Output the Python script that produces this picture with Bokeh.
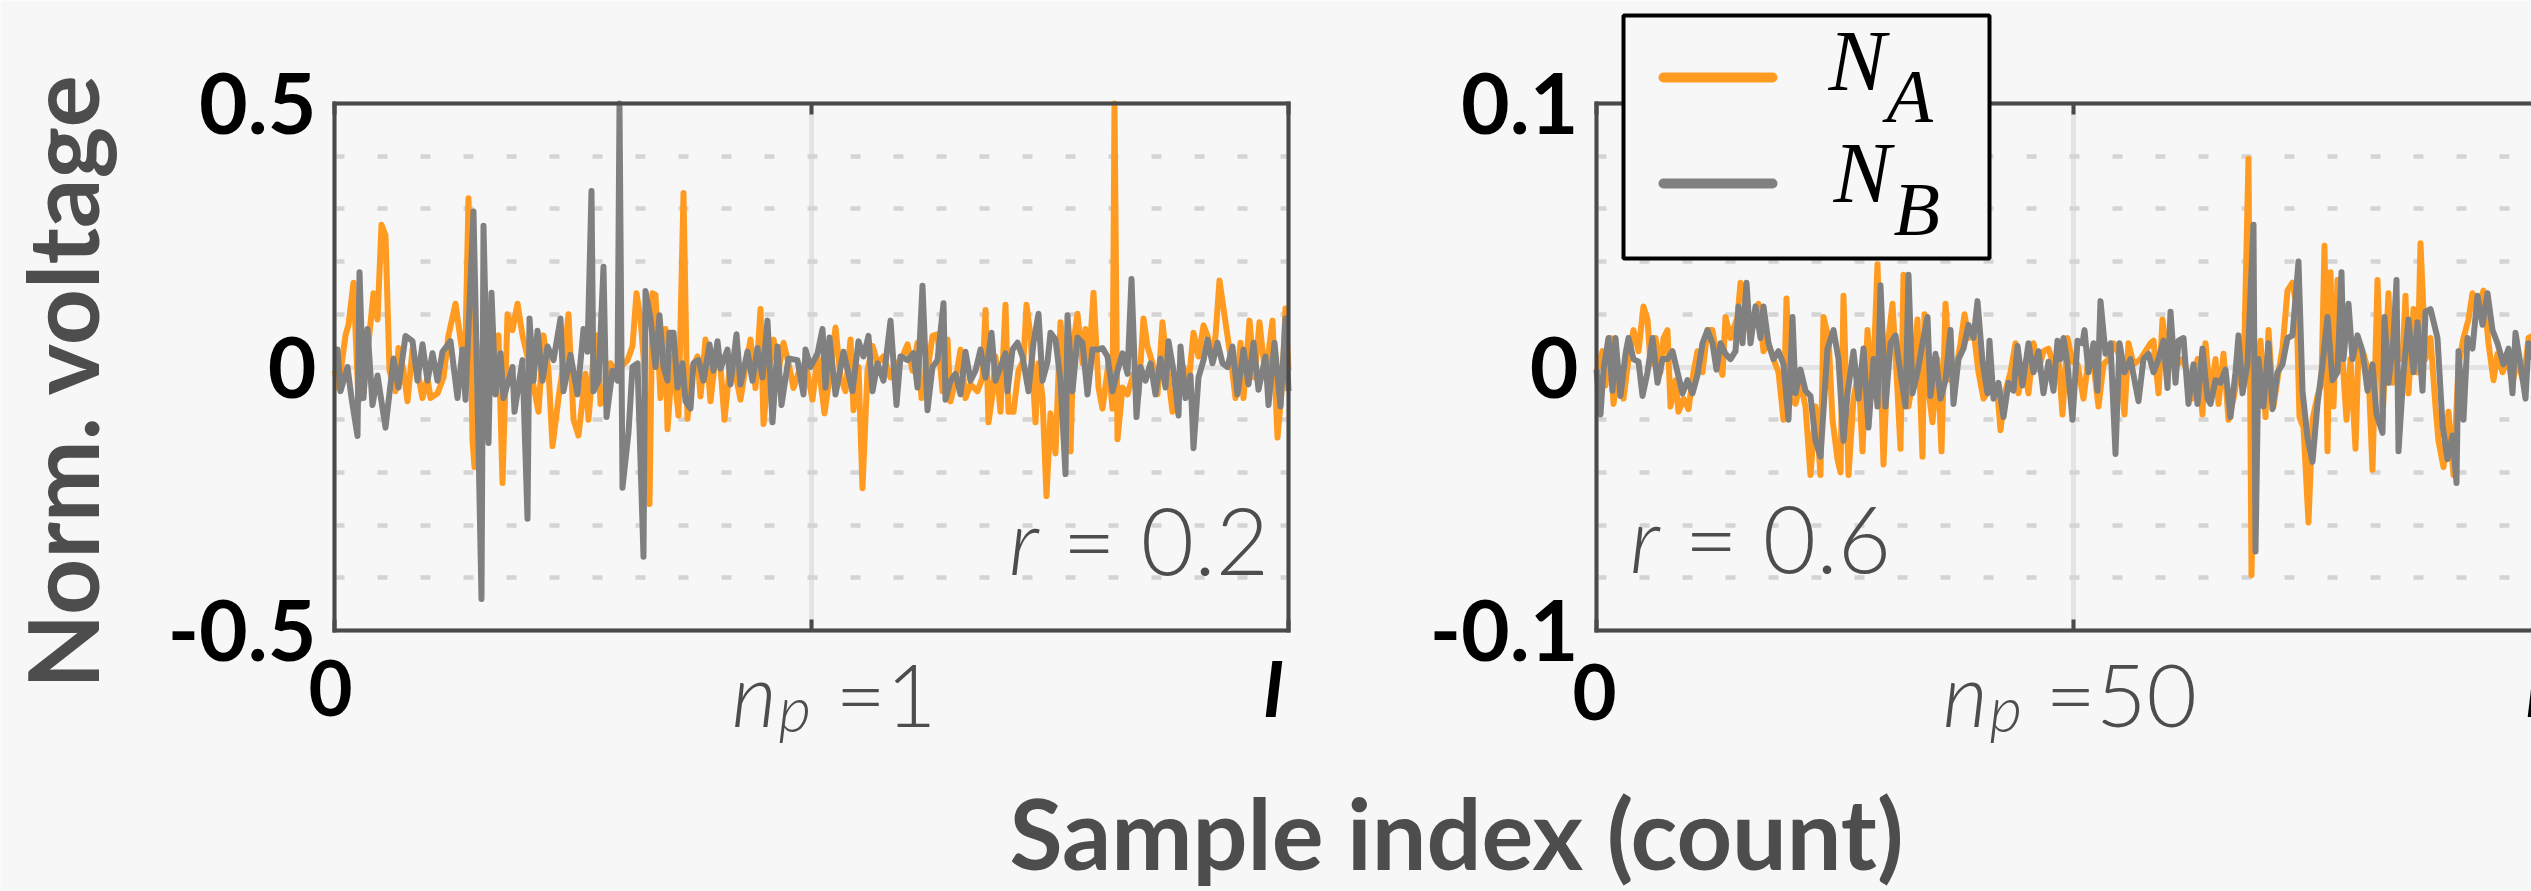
from math import pi
from bokeh.plotting import figure
from bokeh.models import (FixedTicker, Label, LinearAxis, Range1d, Grid, BoxAnnotation, Arrow)
from bokeh.embed import file_html
from bokeh.resources import INLINE

BG = "#f7f7f7"
ORANGE = "#ff9b21"
GREY = "#808080"
FRAME = "#4a4a4a"
TEXT = "#4d4d4d"

# ---------------- data (sample index, normalised voltage) ----------------
x_ticks = [0, 477, 954]
left_y_ticks = [-0.5, 0, 0.5]
left_y_minor = [-0.4, -0.3, -0.2, -0.1, 0.1, 0.2, 0.3, 0.4]
left_y_labels = ["-0.5", "0", "0.5"]
right_y_ticks = [-0.1, 0, 0.1]
right_y_minor = [-0.08, -0.06, -0.04, -0.02, 0.02, 0.04, 0.06, 0.08]
right_y_labels = ["-0.1", "0", "0.1"]
np_values = ["1", "50"]
r_values = ["0.2", "0.6"]
series_names = [("N", "A"), ("N", "B")]

# panel 1 (n_p = 1), N_A
A1 = [(0,-0.007),(4,-0.04),(11,0.06),(14,0.08),(19,0.16),(24,-0.065),(29,-0.05),(39,0.14),(43,0.09),(47,0.27),
      (51,0.25),(55,-0.007),(61,-0.046),(64,0.036),(69,-0.007),(73,-0.065),(78,0.033),(83,-0.007),(88,-0.059),(93,-0.02),
      (96,-0.059),(103,-0.05),(109,-0.02),(114,0.06),(121,0.12),(128,0.026),(131,0.046),(134,0.32),(138,-0.14),(140,-0.19),
      (144,-0.02),(149,0.06),(154,-0.007),(159,0.02),(164,0.06),(168,-0.22),(173,0.1),(178,0.07),(183,0.12),(188,0.06),
      (193,0.02),(198,-0.026),(204,-0.085),(209,0.06),(214,-0.007),(218,-0.15),(224,-0.059),(229,0.007),(234,0.1),(239,-0.1),
      (244,-0.13),(251,-0.013),(254,-0.1),(259,0.02),(263,0.06),(266,-0.07),(271,-0.039),(276,0.007),(281,-0.007),(286,0.0),
      (293,0.013),(298,0.04),(302,0.14),(306,0.092),(309,0.02),(315,-0.26),(318,0.14),(321,0.137),
      (326,-0.059),(331,0.072),(333,-0.118),(338,0.02),(344,-0.092),(349,0.33),(353,-0.098),(358,0.0),(363,0.02),(366,-0.056),
      (371,0.052),(376,-0.065),(381,0.02),(386,0.0),(390,-0.1),(396,0.013),(401,-0.013),(406,-0.062),(411,0.0),(416,0.052),
      (421,-0.04),(426,0.11),(429,-0.108),(434,-0.007),(439,0.052),(444,-0.007),(449,0.046),(454,0.007),(459,-0.04),(466,0.0),
      (471,0.007),(478,-0.062),(483,0.02),(490,-0.088),(496,-0.007),(501,0.075),(506,-0.02),(511,-0.046),(516,0.052),(519,-0.082),
      (524,0.0),(528,-0.23),(533,-0.007),(538,0.04),(543,0.007),(549,0.02),(556,-0.02),(563,0.007),(568,0.02),(573,0.043),
      (578,-0.007),(583,0.046),(587,-0.059),(593,-0.007),(598,0.059),(603,0.062),(608,-0.046),(613,0.052),(616,-0.065),(621,-0.026),
      (626,0.033),(631,-0.059),
      (636,-0.033),(643,-0.046),(648,-0.02),(651,0.108),(654,-0.105),(658,-0.052),(661,0.02),(666,-0.085),(671,0.118),(674,-0.085),
      (679,-0.085),(684,-0.007),(689,0.013),(692,0.118),(696,0.059),(701,-0.105),(704,0.007),(708,-0.059),(712,-0.245),(716,-0.088),
      (721,-0.164),(726,0.085),(731,-0.02),(736,-0.16),(739,0.046),(743,0.101),(748,0.007),(751,0.072),(754,-0.007),(759,0.141),
      (764,-0.039),(768,-0.079),(774,0.007),(778,-0.079),(780,0.5),(783,-0.137),(788,-0.039),(793,-0.052),(799,-0.013),(804,-0.052),
      (809,0.092),(813,0.039),(818,0.007),(823,-0.052),(828,0.085),(833,-0.007),(838,-0.085),(843,-0.065),(849,0.0),(854,-0.033),
      (859,0.065),(864,0.02),(869,0.079),(873,0.059),(878,0.02),(881,0.059),(885,0.164),(891,0.085),(896,0.02),(901,-0.059),
      (906,0.046),(909,-0.059),(915,0.088),(920,-0.02),(925,0.085),(931,-0.02),(938,0.088),(943,-0.134),(948,-0.026),(951,0.111),
      (954,-0.007)]

# panel 1 (n_p = 1), N_B
B1 = [(0,0.033),(3,0.033),(6,-0.046),(13,0.0),(17,-0.059),(23,-0.131),(25,0.18),(29,-0.059),(33,0.072),(38,-0.072),
      (43,-0.016),(51,-0.115),(59,0.016),(64,-0.039),(71,0.059),(78,0.049),(83,-0.026),(88,0.043),(93,-0.026),(98,0.026),
      (103,-0.026),(108,0.029),(116,0.049),(123,-0.059),(128,0.033),(131,-0.062),(139,0.295),(144,-0.15),(147,-0.44),(149,0.268),
      (154,-0.144),(157,0.141),(161,-0.052),(166,0.026),(169,-0.059),(178,0.0),(180,-0.085),(188,0.013),(193,-0.288),(195,0.092),
      (199,-0.026),(203,0.069),(208,-0.026),(213,0.039),(219,0.013),(226,0.092),(229,-0.046),(236,0.023),(243,-0.052),(249,0.072),
      (253,0.029),(257,0.334),(259,-0.046),(264,-0.026),(269,0.19),(272,-0.095),(278,-0.007),(283,-0.026),(285,0.5),(288,-0.229),
      (294,-0.124),(298,0.0),(303,0.007),(309,-0.36),(311,0.144),(316,0.092),(321,0.0),
      (325,0.098),(329,0.0),(333,-0.026),(335,0.065),(339,0.065),(343,-0.039),(348,0.007),(351,-0.065),(356,-0.079),(359,0.007),
      (364,0.013),(369,-0.026),(375,0.043),(379,-0.007),(383,0.049),(386,-0.003),(393,0.033),(396,-0.033),(402,0.062),(406,-0.033),
      (413,0.029),(418,-0.026),(423,0.036),(428,-0.02),(433,0.088),(438,-0.105),(443,0.039),(447,-0.072),(454,0.016),(463,0.013),
      (469,-0.052),(471,0.033),(476,0.0),(483,0.026),(488,0.072),(491,-0.039),(495,0.056),(501,-0.052),(509,0.029),(518,-0.046),
      (524,0.049),(529,0.02),(534,0.059),(538,-0.046),(543,0.007),(549,-0.026),(556,0.088),(562,-0.072),(566,0.02),(573,0.013),
      (579,0.026),(583,-0.039),(588,0.154),(593,-0.082),(598,0.0),(603,0.013),(609,0.121),(611,-0.062),(616,-0.026),(621,-0.013),
      (626,-0.052),(631,0.029),
      (636,-0.026),(641,-0.007),(646,0.033),(651,-0.02),(657,0.065),(661,-0.026),(666,0.0),(671,0.026),(673,-0.046),(678,0.033),
      (683,0.046),(688,0.02),(694,-0.046),(699,0.046),(704,0.101),(708,-0.026),(713,0.01),(716,0.065),(721,0.052),(726,-0.026),
      (731,-0.203),(733,0.098),(738,-0.046),(743,0.056),(748,0.046),(753,-0.052),(758,0.033),(763,0.033),(768,0.036),(773,0.02),
      (778,-0.046),(783,-0.007),(788,0.026),(793,-0.013),(797,0.167),(802,-0.095),(806,0.0),(811,-0.026),(816,0.007),(821,-0.052),
      (826,0.016),(831,-0.039),(834,0.049),(839,-0.007),(844,-0.092),(846,0.039),(851,-0.059),(856,-0.016),(859,-0.154),(864,-0.02),
      (869,0.013),(873,0.052),(878,0.007),(883,0.046),(888,0.007),(893,0.0),(898,0.039),(903,-0.052),(909,0.033),(914,-0.033),
      (919,0.046),(924,-0.043),(931,0.02),(934,-0.072),(940,0.046),(946,-0.075),(951,0.092),(954,-0.046)]

# panel 2 (n_p = 50), N_A
A2 = [(0,-0.002),(6,0.006),(9,-0.007),(14,0.011),(17,-0.014),(22,-0.001),(27,-0.012),(32,0.003),(37,0.014),(42,0.006),
      (47,0.023),(51,0.018),(54,0.001),(59,0.011),(64,-0.002),(67,0.011),(71,0.014),(74,-0.015),(79,-0.005),(82,-0.017),
      (87,-0.012),(92,-0.016),(97,-0.002),(101,0.006),(106,-0.002),(111,0.014),(116,0.014),(121,0.002),(126,-0.003),(129,0.019),
      (134,0.011),(141,0.019),(144,0.032),(149,0.024),(154,0.011),(157,0.019),(162,0.024),(167,0.006),(172,0.009),(177,0.003),
      (182,-0.002),(187,-0.02),(190,0.026),(194,-0.012),(199,-0.014),(204,-0.006),(209,-0.015),(214,-0.041),(219,-0.015),(224,-0.041),
      (227,0.019),(232,0.011),(236,-0.02),(241,-0.035),(244,-0.04),(247,0.027),(252,-0.041),(257,-0.012),(262,-0.002),(266,-0.032),
      (271,0.014),(276,-0.011),(281,0.039),(287,-0.037),(292,0.011),(296,0.024),(301,-0.009),(304,-0.031),(307,0.035),(312,-0.015),
      (316,-0.005),(321,0.018),(326,-0.034),(328,0.02),(332,-0.009),(336,-0.021),(341,0.003),(345,-0.032),(349,0.024),(354,-0.005),
      (359,-0.002),(364,0.009),(368,0.02),(372,0.011),(377,0.014),(382,-0.002),(387,-0.012),(392,-0.009),(397,-0.007),(401,-0.01),
      (404,-0.024),(409,-0.009),(414,-0.002),(419,0.009),(422,-0.01),(427,0.001),(432,-0.01),(437,0.009),(442,-0.001),(447,0.006),
      (452,0.007),(457,0.001),(462,0.003),(466,-0.018),(471,0.011),(476,0.002),(481,0.001),(487,-0.012),(492,0.003),(497,0.001),
      (502,-0.015),(507,0.001),(512,0.003),(517,0.009),(522,0.005),(528,-0.018),(532,0.009),(537,0.001),(544,0.003),(549,0.006),
      (554,0.009),(557,0.01),(562,-0.01),(566,0.018),(571,0.003),(576,0.003),(581,0.001),(586,0.003),(591,-0.002),(596,-0.012),
      (601,0.003),(606,-0.018),(609,0.009),
      (614,-0.012),(619,0.003),(622,-0.014),(627,0.005),(632,-0.02),(637,-0.012),(642,-0.001),(647,-0.006),(652,0.079),(655,-0.079),
      (659,-0.005),(664,0.01),(669,-0.019),(672,0.014),(677,-0.015),(682,-0.002),(686,0.007),(691,0.029),(696,0.032),(700,0.023),
      (703,-0.019),(707,-0.023),(712,-0.059),(716,-0.02),(721,-0.011),(725,-0.006),(728,0.046),(731,-0.032),(734,0.036),(737,-0.015),
      (741,0.033),(746,0.003),(750,-0.02),(754,0.003),(759,-0.031),(762,0.006),(767,0.005),(772,-0.002),(776,-0.039),(781,0.033),
      (786,-0.02),(792,0.028),(796,-0.006),(801,0.003),(806,0.003),(809,0.027),(812,-0.01),(817,0.022),(821,-0.002),(824,0.047),
      (829,0.003),(834,0.011),(839,-0.015),(842,-0.028),(847,-0.038),(852,-0.017),(857,-0.041),(862,0.001),(867,0.011),(872,0.018),
      (876,0.028),(881,0.022),(887,0.029),(892,0.009),(897,-0.005),(901,0.005),(906,-0.002),(911,0.003),(916,-0.006),(921,0.003),
      (927,-0.006),(932,0.011),(937,0.012)]

# panel 2 (n_p = 50), N_B
B2 = [(0,-0.001),(4,-0.018),(7,-0.001),(12,0.011),(16,-0.009),(19,0.011),(24,-0.011),(29,0.005),(32,0.011),(37,0.003),
      (42,0.002),(46,-0.011),(51,-0.002),(56,0.011),(61,-0.006),(66,0.003),(71,0.003),(76,0.006),(81,-0.002),(86,-0.01),
      (91,-0.005),(96,-0.01),(101,-0.003),(106,0.009),(111,0.014),(116,0.009),(120,-0.001),(124,0.009),(129,0.005),(134,0.003),
      (139,0.006),(142,0.023),(146,0.009),(150,0.032),(154,0.009),(159,0.023),(164,0.011),(167,0.023),(172,0.009),(177,0.003),
      (182,0.006),(187,0.001),(192,-0.02),(196,0.019),(199,-0.01),(204,-0.001),(209,-0.009),(214,-0.011),(219,-0.028),(224,-0.034),
      (231,0.007),(237,0.014),(242,0.003),(247,-0.028),(251,-0.01),(257,0.006),(262,-0.012),(267,0.007),(272,-0.023),(277,0.003),
      (281,-0.015),(284,0.031),(289,-0.015),(294,0.009),(299,0.012),(302,0.003),(309,-0.015),(312,0.035),
      (316,-0.01),(321,-0.002),(326,0.009),(331,0.019),(334,-0.011),(339,0.005),(344,-0.012),(349,-0.005),(354,0.014),(357,-0.014),
      (362,0.003),(367,0.007),(372,0.016),(377,0.011),(381,0.025),(386,0.002),(391,-0.01),(393,0.01),(397,-0.012),(402,-0.006),
      (407,-0.019),(412,-0.006),(417,-0.009),(421,0.008),(426,-0.007),(432,0.009),(437,-0.002),(442,0.006),(447,-0.01),(452,0.002),
      (457,-0.009),(461,0.01),(464,0.003),(467,0.011),(471,0.001),(476,-0.02),(481,0.01),(486,0.009),(488,0.014),(492,-0.002),
      (497,0.009),(501,-0.009),(504,0.025),(509,0.005),(514,0.009),(519,-0.033),(523,0.009),(528,-0.002),(534,0.003),(542,-0.013),
      (547,0.003),(552,0.005),(557,-0.002),(562,0.003),(567,0.01),(571,-0.008),(574,0.021),(579,-0.006),(582,0.01),(587,0.011),
      (592,-0.014),(597,0.001),(601,-0.014),(606,0.007),(611,-0.012),
      (614,-0.014),(619,-0.005),(624,-0.006),(629,-0.001),(634,-0.019),(639,-0.002),(642,0.012),(646,-0.01),(651,0.001),(657,0.054),
      (659,-0.07),(662,0.003),(667,-0.015),(672,0.009),(676,-0.016),(681,-0.002),(686,0.001),(691,0.011),(696,0.012),(702,0.04),
      (706,-0.009),(711,-0.027),(716,-0.036),(721,-0.014),(726,0.001),(731,0.019),(736,-0.005),(741,-0.002),(745,0.036),(747,0.003),
      (752,0.024),(756,0.003),(761,0.012),(766,0.006),(771,-0.009),(776,0.001),(780,-0.018),(786,-0.025),(788,0.019),(792,-0.006),
      (797,0.011),(800,0.033),(802,-0.032),(807,-0.002),(812,0.018),(817,-0.002),(821,0.017),(826,-0.009),(829,0.021),(834,0.022),
      (841,0.011),(846,-0.022),(851,-0.035),(856,-0.026),(860,-0.044),(862,0.006),(867,-0.02),(871,0.011),(876,0.007),(881,0.027),
      (886,0.016),(891,0.028),(896,0.014),(901,0.009),(907,0.001),(912,0.007),(916,-0.01),(919,0.013),(924,0.001),(929,-0.012),
      (932,0.009),(937,0.003)]

# ---------------- page geometry (pixels) ----------------
PW, PH = 2531, 891
L1, L2 = 334, 1596          # left edge of each panel
TOP, BOT = 103, 630         # top / bottom edge of both panels
ZERO = (TOP + BOT) / 2
SPAN = BOT - TOP
BL_FIX = 0.38               # compensates the renderer's alphabetic-baseline placement

p = figure(width=PW, height=PH,
           x_range=Range1d(-L1, PW - L1),
           y_range=Range1d((ZERO - PH) / SPAN * 1.0, ZERO / SPAN * 1.0),
           output_backend="svg", toolbar_location=None,
           x_axis_location=None, y_axis_location=None, min_border=0,
           background_fill_color=BG, border_fill_color=BG, outline_line_color=None)
p.extra_x_ranges = {"x2": Range1d(-L2, PW - L2)}
p.extra_y_ranges = {"y2": Range1d((ZERO - PH) / SPAN * 0.2, ZERO / SPAN * 0.2)}
p.center = [c for c in p.center if not isinstance(c, Grid)]

HAS_CROSS = "cross_bounds" in Grid.properties()


def add_panel(xr, yr, ylim, yticks, yminor, ylabels, right_border):
    x_end = x_ticks[-1]
    if HAS_CROSS:
        p.add_layout(Grid(dimension=0, x_range_name=xr, y_range_name=yr,
                          ticker=FixedTicker(ticks=x_ticks, minor_ticks=[]),
                          cross_bounds=(-ylim, ylim),
                          grid_line_color="#e4e4e4", grid_line_width=5))
        p.add_layout(Grid(dimension=1, x_range_name=xr, y_range_name=yr,
                          ticker=FixedTicker(ticks=yticks, minor_ticks=yminor),
                          cross_bounds=(0, x_end),
                          grid_line_color="#e4e4e4", grid_line_width=5,
                          minor_grid_line_color="#d4d4d4", minor_grid_line_width=4.5,
                          minor_grid_line_dash="10 33"))
    else:
        p.segment(x0=[x_ticks[1]], x1=[x_ticks[1]], y0=[-ylim], y1=[ylim], x_range_name=xr, y_range_name=yr,
                  line_color="#e4e4e4", line_width=5)
        p.segment(x0=[0], x1=[x_end], y0=[0], y1=[0], x_range_name=xr, y_range_name=yr,
                  line_color="#e4e4e4", line_width=5)
        p.segment(x0=[0] * len(yminor), x1=[x_end] * len(yminor), y0=yminor, y1=yminor,
                  x_range_name=xr, y_range_name=yr, line_color="#d4d4d4", line_width=4.5, line_dash="10 33")

    def border(ticks, loc, bounds, show_ticks):
        return LinearAxis(x_range_name=xr, y_range_name=yr, fixed_location=loc, bounds=bounds,
                          ticker=FixedTicker(ticks=ticks, minor_ticks=[]),
                          axis_line_color=FRAME, axis_line_width=4, axis_line_cap="square",
                          major_tick_in=11 if show_ticks else 0, major_tick_out=0,
                          major_tick_line_color=FRAME if show_ticks else None, major_tick_line_width=4,
                          minor_tick_line_color=None, major_label_text_color=None,
                          major_label_text_font_size="10px")

    p.add_layout(border(x_ticks, -ylim, (0, x_end), True), "below")
    p.add_layout(border(x_ticks, ylim, (0, x_end), True), "above")
    if right_border:
        p.add_layout(border([], x_end, (-ylim, ylim), False), "right")
    left = LinearAxis(x_range_name=xr, y_range_name=yr, fixed_location=0, bounds=(-ylim, ylim),
                      ticker=FixedTicker(ticks=yticks, minor_ticks=[]),
                      major_label_overrides={t: s for t, s in zip(yticks, ylabels)},
                      axis_line_color=FRAME, axis_line_width=4, axis_line_cap="square",
                      major_tick_line_color=None, minor_tick_line_color=None,
                      major_tick_in=0, major_tick_out=0,
                      major_label_text_font="Lato", major_label_text_font_style="bold",
                      major_label_text_font_size="84px", major_label_text_color="black",
                      major_label_standoff=18)
    p.add_layout(left, "left")


add_panel("default", "default", 0.5, left_y_ticks, left_y_minor, left_y_labels, True)
add_panel("x2", "y2", 0.1, right_y_ticks, right_y_minor, right_y_labels, False)

# data lines
for data, col, xr, yr in [(A1, ORANGE, "default", "default"), (B1, GREY, "default", "default"),
                          (A2, ORANGE, "x2", "y2"), (B2, GREY, "x2", "y2")]:
    p.line([a for a, _ in data], [b for _, b in data], line_color=col, line_width=6,
           line_join="round", x_range_name=xr, y_range_name=yr)

# ---------------- legend box (screen units measured from the canvas bottom-left) ----------------
LEG_L, LEG_R, LEG_T, LEG_B = 1623, 1989, 15, 258
p.add_layout(BoxAnnotation(left=LEG_L, right=LEG_R, top=PH - LEG_T, bottom=PH - LEG_B,
                           left_units="screen", right_units="screen",
                           top_units="screen", bottom_units="screen",
                           fill_color=BG, fill_alpha=1.0, line_color="black", line_width=4,
                           line_alpha=1.0, level="annotation"))
for col, ys in [(ORANGE, 77), (GREY, 183)]:
    p.add_layout(Arrow(x_start=LEG_L + 40, y_start=PH - ys, x_end=LEG_L + 149, y_end=PH - ys,
                       start_units="screen", end_units="screen", start=None, end=None,
                       line_color=col, line_width=10, line_cap="round", level="overlay"))


def add_label(x, y, text, dx, dy, font, style, size, color, align="left", angle=0.0,
              xr="default", yr="default", units="data"):
    fix = BL_FIX * size
    if angle:
        dx -= fix
    else:
        dy += fix
    p.add_layout(Label(x=x, y=y, text=text, x_offset=dx, y_offset=dy, text_font=font,
                       text_font_style=style, text_font_size=f"{size}px", text_color=color,
                       text_align=align, text_baseline="alphabetic", angle=angle,
                       x_range_name=xr, y_range_name=yr, x_units=units, y_units=units,
                       level="overlay"))


# legend texts
for (main, sub), (dxm, dym, dxs, dys) in zip(series_names, [(232, 10, 290, -21), (237, -102, 297, -134)]):
    add_label(0, right_y_ticks[2], main, dxm, dym, "Liberation Serif", "italic", 86, "black", xr="x2", yr="y2")
    add_label(0, right_y_ticks[2], sub, dxs, dys, "Liberation Serif", "italic", 76, "black", xr="x2", yr="y2")

# x tick labels and r values, panel by panel
for i, (xr, yr, ymin, off0, dn, dp, de, rx, rdx, rdy) in enumerate([
        ("default", "default", left_y_ticks[0], (-4, -86), -80, -33, 24, 674, 54, 56),
        ("x2", "y2", right_y_ticks[0], (-2, -90), -131, -84, -28, 33, 55, 58)]):
    add_label(x_ticks[0], ymin, "0", off0[0], off0[1], "Lato", "bold", 76, "black", "center", xr=xr, yr=yr)
    add_label(x_ticks[2], ymin, "I", -15, -86, "Lato", "bold italic", 76, "black", "center", xr=xr, yr=yr)
    add_label(x_ticks[1], ymin, "n", dn, -96, "Lato Light", "italic", 88, TEXT, xr=xr, yr=yr)
    add_label(x_ticks[1], ymin, "p", dp, -101, "Lato Light", "italic", 63, TEXT, xr=xr, yr=yr)
    add_label(x_ticks[1], ymin, "=" + np_values[i], de, -96, "Lato Light", "normal", 87, TEXT, xr=xr, yr=yr)
    add_label(x_ticks[0], ymin, "r", rx, rdy, "Lato Light", "italic", 92, TEXT, xr=xr, yr=yr)
    add_label(x_ticks[0], ymin, "= " + r_values[i], rx + rdx, rdy, "Lato Light", "normal", 92, TEXT, xr=xr, yr=yr)

# axis titles
add_label(x_ticks[0], 0, "Norm. voltage", -236, -14, "Lato", "bold", 98, TEXT, "center", pi / 2)
add_label(1456, PH - 869, "Sample index (count)", 0, 0, "Lato", "bold", 97, TEXT, "center", units="screen")

open("out.html", "w").write(file_html(p, INLINE, title="chart"))
